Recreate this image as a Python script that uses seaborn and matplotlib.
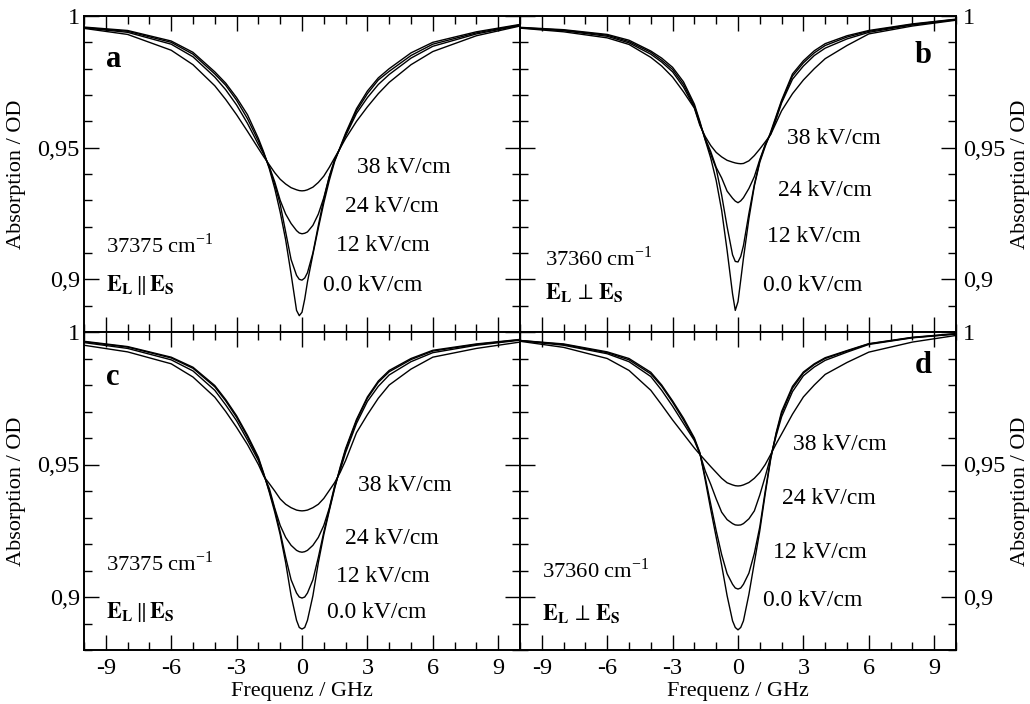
import numpy as np
import pandas as pd
import matplotlib
matplotlib.use("Agg")
import matplotlib.pyplot as plt
import seaborn as sns
from matplotlib.ticker import FixedLocator, MultipleLocator, FuncFormatter

# ---------------- data ----------------
freq = [-10, -8, -6, -5, -4, -3.5, -3, -2.5, -2, -1.75, -1.5, -1.25, -1, -0.75, -0.5, -0.25, -0.125, 0,
        0.125, 0.25, 0.5, 0.75, 1, 1.25, 1.5, 1.75, 2, 2.5, 3, 3.5, 4, 5, 6, 8, 10]
fields = ["0.0 kV/cm", "12 kV/cm", "24 kV/cm", "38 kV/cm"]

# panel a: 37375 cm-1, E_L || E_S (measured)
a_00 = [.9958, .9945, .9905, .9862, .9788, .9745, .9690, .9625, .9535, .9482, .9420, .9345, .9255, .9150, .9020,
        .8882, .8862, .8875, .8925, .8990, .9095, .9195, .9290, .9375, .9448, .9502, .9555, .9648, .9715, .9765,
        .9800, .9860, .9900, .9940, .9968]
a_12 = [.9956, .9942, .9900, .9855, .9780, .9737, .9680, .9610, .9525, .9477, .9425, .9360, .9285, .9180, .9075,
        .9015, .9000, .8997, .9005, .9025, .9100, .9205, .9305, .9388, .9452, .9500, .9550, .9640, .9705, .9757,
        .9790, .9850, .9893, .9936, .9966]
a_24 = [.9955, .9938, .9893, .9845, .9768, .9720, .9662, .9592, .9512, .9475, .9428, .9370, .9300, .9248, .9212,
        .9185, .9176, .9173, .9175, .9180, .9205, .9248, .9310, .9390, .9455, .9498, .9545, .9630, .9690, .9740,
        .9778, .9840, .9885, .9932, .9964]
a_38 = [.9953, .9930, .9870, .9815, .9735, .9683, .9625, .9562, .9497, .9465, .9435, .9405, .9380, .9362, .9348,
        .9340, .9337, .9336, .9337, .9340, .9350, .9368, .9392, .9425, .9462, .9498, .9535, .9600, .9655, .9705,
        .9748, .9815, .9865, .9925, .9962]

# panel b: 37360 cm-1, E_L perp E_S (measured)
b_00 = [.9957, .9948, .9930, .9908, .9867, .9840, .9805, .9750, .9665, .9600, .9528, .9460, .9375, .9262, .9110,
        .8945, .8882, .8915, .8997, .9080, .9230, .9355, .9445, .9505, .9560, .9620, .9680, .9780, .9830, .9868,
        .9895, .9925, .9945, .9970, .9988]
b_12 = [.9956, .9946, .9927, .9903, .9862, .9832, .9797, .9740, .9658, .9595, .9530, .9475, .9420, .9320, .9200,
        .9093, .9068, .9066, .9087, .9128, .9250, .9360, .9450, .9510, .9555, .9615, .9675, .9772, .9822, .9860,
        .9888, .9920, .9942, .9968, .9987]
b_24 = [.9955, .9944, .9923, .9898, .9855, .9825, .9788, .9730, .9652, .9590, .9535, .9485, .9425, .9385, .9335,
        .9308, .9297, .9291, .9298, .9310, .9345, .9390, .9455, .9512, .9552, .9608, .9670, .9760, .9810, .9850,
        .9878, .9913, .9938, .9966, .9986]
b_38 = [.9954, .9940, .9917, .9892, .9843, .9810, .9768, .9712, .9650, .9585, .9542, .9508, .9482, .9465, .9452,
        .9445, .9442, .9440, .9439, .9440, .9450, .9470, .9495, .9522, .9550, .9595, .9640, .9705, .9757, .9800,
        .9838, .9888, .9932, .9962, .9984]

# panel c: 37375 cm-1, E_L || E_S (fit)
c_00 = [.9965, .9945, .9905, .9867, .9798, .9745, .9684, .9610, .9527, .9465, .9395, .9320, .9235, .9130, .9005,
        .8912, .8885, .8879, .8885, .8912, .9005, .9130, .9235, .9325, .9410, .9490, .9560, .9670, .9755, .9815,
        .9855, .9900, .9931, .9955, .9972]
c_12 = [.9963, .9943, .9902, .9863, .9793, .9740, .9678, .9604, .9522, .9462, .9400, .9330, .9245, .9150, .9065,
        .9015, .9000, .8996, .9000, .9015, .9065, .9150, .9245, .9330, .9415, .9485, .9555, .9665, .9750, .9810,
        .9850, .9896, .9928, .9953, .9971]
c_24 = [.9960, .9938, .9895, .9853, .9780, .9725, .9665, .9592, .9515, .9458, .9410, .9335, .9270, .9225, .9195,
        .9176, .9171, .9169, .9171, .9176, .9195, .9225, .9270, .9335, .9420, .9478, .9545, .9655, .9738, .9795,
        .9838, .9888, .9922, .9950, .9969]
c_38 = [.9950, .9925, .9880, .9830, .9754, .9700, .9640, .9575, .9500, .9455, .9428, .9400, .9370, .9350, .9337,
        .9328, .9326, .9325, .9326, .9328, .9337, .9350, .9372, .9402, .9432, .9470, .9515, .9620, .9688, .9750,
        .9800, .9860, .9905, .9938, .9962]

# panel d: 37360 cm-1, E_L perp E_S (fit)
d_00 = [.9968, .9955, .9925, .9900, .9848, .9800, .9740, .9675, .9600, .9545, .9440, .9330, .9225, .9120, .9005,
        .8910, .8885, .8876, .8885, .8910, .9010, .9130, .9250, .9390, .9520, .9620, .9700, .9795, .9849, .9880,
        .9903, .9930, .9956, .9980, .9994]
d_12 = [.9968, .9953, .9922, .9895, .9842, .9795, .9735, .9668, .9595, .9542, .9450, .9350, .9250, .9160, .9088,
        .9048, .9034, .9030, .9034, .9048, .9090, .9165, .9265, .9400, .9525, .9615, .9692, .9788, .9845, .9877,
        .9900, .9928, .9955, .9979, .9993]
d_24 = [.9967, .9950, .9918, .9888, .9832, .9780, .9720, .9655, .9590, .9540, .9475, .9425, .9370, .9320, .9292,
        .9277, .9272, .9271, .9272, .9277, .9295, .9325, .9385, .9455, .9530, .9608, .9680, .9775, .9835, .9868,
        .9893, .9924, .9953, .9978, .9992]
d_38 = [.9965, .9942, .9900, .9855, .9780, .9725, .9668, .9615, .9562, .9538, .9515, .9492, .9470, .9448, .9431,
        .9423, .9420, .9419, .9420, .9423, .9432, .9448, .9470, .9500, .9538, .9578, .9615, .9690, .9755, .9800,
        .9840, .9885, .9924, .9962, .9987]

panel_letters = ["a", "b", "c", "d"]
wavenumbers = ["37375", "37360", "37375", "37360"]
orientations = [r"\Vert", r"\perp", r"\Vert", r"\perp"]
x_ticks = [-9, -6, -3, 0, 3, 6, 9]
y_ticks = [0.9, 0.95, 1.0]

panels = {
    "a": [a_00, a_12, a_24, a_38],
    "b": [b_00, b_12, b_24, b_38],
    "c": [c_00, c_12, c_24, c_38],
    "d": [d_00, d_12, d_24, d_38],
}

# ---------------- layout (text placement in data coords) ----------------
letter_pos = {"a": (-9.0, .9805, "left"), "b": (8.9, .982, "right"),
              "c": (-9.0, .980, "left"), "d": (8.9, .9845, "right")}
wn_pos = {"a": (-9.0, .910), "b": (-8.85, .905), "c": (-9.0, .9098), "d": (-9.0, .9072)}
or_pos = {"a": (-9.0, .8955), "b": (-8.85, .8924), "c": (-9.0, .892), "d": (-9.0, .8914)}
field_pos = {
    "a": [(0.98, .8955), (1.55, .9106), (1.97, .9254), (2.52, .9405)],
    "b": [(1.15, .8955), (1.33, .914), (1.82, .9318), (2.25, .9513)],
    "c": [(1.15, .8919), (1.56, .9058), (1.95, .920), (2.56, .940)],
    "d": [(1.13, .8966), (1.59, .9149), (2.0, .9352), (2.51, .9553)],
}

sns.set_theme(style="ticks")
plt.rcParams["font.family"] = ["Liberation Serif", "DejaVu Serif"]
plt.rcParams["mathtext.fontset"] = "stix"
plt.rcParams["axes.unicode_minus"] = False

fig = plt.figure(figsize=(10.3, 7.04), dpi=100)
fig.patch.set_facecolor("white")

L, W = 84 / 1030, 436 / 1030
R = 520 / 1030
TB, TH = 1 - 332 / 704, 316 / 704
BB, BH = 1 - 650 / 704, 318 / 704
rects = {"a": [L, TB, W, TH], "b": [R, TB, W, TH],
         "c": [L, BB, W, BH], "d": [R, BB, W, BH]}

yfmt = FuncFormatter(lambda v, p: ("%g" % round(v, 3)).replace(".", ","))
xfmt = FuncFormatter(lambda v, p: "%g" % v)

for i, key in enumerate(panel_letters):
    ax = fig.add_axes(rects[key])
    ax.set_facecolor("white")
    rows = []
    for fld, vals in zip(fields, panels[key]):
        for xv, yv in zip(freq, vals):
            rows.append({"freq": xv, "od": yv, "field": fld})
    df = pd.DataFrame(rows)
    sns.lineplot(data=df, x="freq", y="od", hue="field", units="field", estimator=None,
                 palette=["black"] * 4, legend=False, linewidth=1.0, ax=ax)

    ax.set_xlim(-10, 10)
    ax.set_ylim(0.88, 1.0)
    ax.xaxis.set_major_locator(FixedLocator(x_ticks))
    ax.xaxis.set_minor_locator(MultipleLocator(1))
    ax.yaxis.set_major_locator(FixedLocator(y_ticks))
    ax.yaxis.set_minor_locator(MultipleLocator(0.01))
    ax.yaxis.set_major_formatter(yfmt)
    ax.xaxis.set_major_formatter(xfmt)
    for sp in ax.spines.values():
        sp.set_linewidth(1.4)
        sp.set_color("black")
    ax.tick_params(which="both", direction="in", top=True, bottom=True, left=True, right=True,
                   color="black", width=1.0, labelsize=17.5, labelcolor="black")
    ax.tick_params(which="major", length=11)
    ax.tick_params(which="minor", length=6)
    right = key in ("b", "d")
    bottom = key in ("c", "d")
    if right:
        ax.tick_params(axis="y", labelleft=False, labelright=True, pad=5)
        ax.yaxis.set_label_position("right")
        ax.set_ylabel("Absorption / OD", fontsize=16, color="black")
        ax.yaxis.set_label_coords(1.126, 0.5)
    else:
        ax.tick_params(axis="y", labelleft=True, labelright=False, pad=3)
        ax.set_ylabel("Absorption / OD", fontsize=16, color="black")
        ax.yaxis.set_label_coords(-0.133, 0.5)
    if bottom:
        ax.tick_params(axis="x", labelbottom=True, pad=6)
        ax.set_xlabel("Frequenz / GHz", fontsize=16, color="black", labelpad=2)
    else:
        ax.tick_params(axis="x", labelbottom=False)
        ax.set_xlabel("")

    lx, ly, lha = letter_pos[key]
    ax.text(lx, ly, key, fontsize=22, fontweight="bold", ha=lha, va="baseline", color="black")
    wx, wy = wn_pos[key]
    ax.text(wx, wy, wavenumbers[i] + r" cm$^{\mathregular{-1}}$", fontsize=16.2,
            ha="left", va="baseline", color="black")
    ox, oy = or_pos[key]
    ax.text(ox, oy, r"$\mathbf{E}_\mathbf{L}\," + orientations[i] + r"\,\mathbf{E}_\mathbf{S}$",
            fontsize=16, ha="left", va="baseline", color="black")
    for fld, (fx, fy) in zip(fields, field_pos[key]):
        ax.text(fx, fy, fld, fontsize=17, ha="left", va="baseline", color="black")

fig.savefig("out.png", dpi=100, facecolor="white")
